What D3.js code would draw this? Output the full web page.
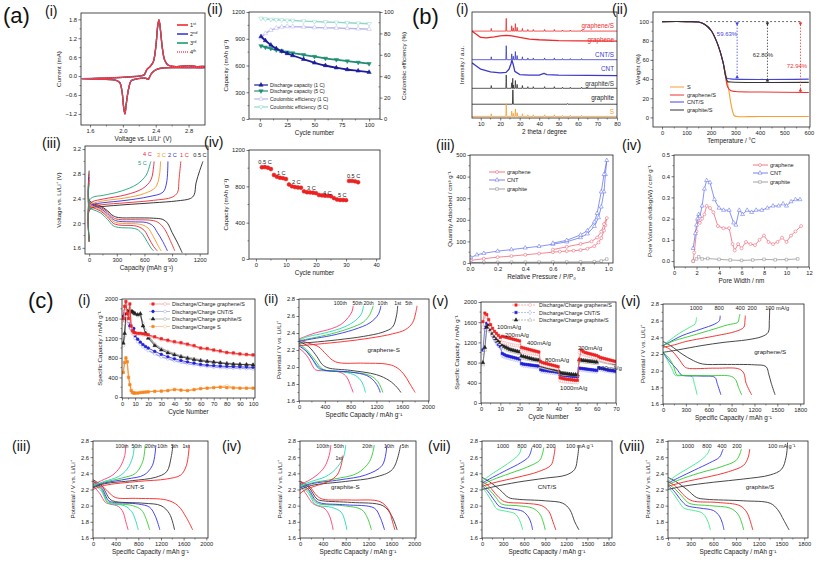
<!DOCTYPE html>
<html>
<head>
<meta charset="utf-8">
<script src="https://cdn.jsdelivr.net/npm/d3@7"></script>
<style>
  body { margin: 0; background: #fff; }
  svg { display: block; }
  text { font-family: "Liberation Sans", Arial, sans-serif; }
</style>
</head>
<body>
<svg id="fig" width="817" height="567"></svg>
<script>
// ---------- (a)(i) cyclic voltammetry ----------
const cvAnodic = [[1.5,-0.08],[1.7,-0.07],[1.9,-0.05],[2.0,-0.04],[2.1,-0.02],[2.2,0.0],[2.26,0.04],[2.29,0.2],[2.33,0.3],[2.37,0.45],[2.4,0.9],[2.425,1.6],[2.44,1.78],[2.46,1.4],[2.48,0.9],[2.51,0.5],[2.55,0.35],[2.65,0.3],[2.8,0.33],[2.9,0.3],[3.0,0.3]];
const cvCathodic = [[3.0,0.28],[2.8,0.27],[2.6,0.27],[2.5,0.26],[2.42,0.22],[2.36,0.12],[2.33,0.0],[2.31,-0.1],[2.28,-0.07],[2.22,-0.07],[2.15,-0.1],[2.1,-0.15],[2.07,-0.4],[2.04,-0.9],[2.025,-1.2],[2.01,-1.0],[1.99,-0.5],[1.96,-0.2],[1.9,-0.12],[1.7,-0.1],[1.5,-0.08]];
const cvCycles = ["1", "2", "3", "4"];
const cvSup = ["st", "nd", "rd", "th"];

// ---------- (a)(ii) cycling ----------
const aiiCycle = [1,5,10,15,20,25,30,40,50,60,70,80,90,100];
const dis1C = [925,880,830,790,760,735,712,670,630,600,575,555,540,525];
const dis5C = [820,805,790,775,762,750,740,720,700,680,665,650,635,620];
const ce1C = [76,80,83,85,86,86.5,86.3,86,85.5,85.2,85,84.7,84.3,84];
const ce5C = [94,93.5,93,92.8,92.5,92.2,92,91.5,91,90.7,90.3,90,89.5,89];
const aiiLegend = ["Discharge capacity (1 C)", "Discharge capacity (5 C)", "Coulombic efficiency (1 C)", "Coulombic efficiency (5 C)"];

// ---------- (a)(iii) rate charge/discharge ----------
const rateNames = ["0.5 C", "1 C", "2 C", "3 C", "4 C", "5 C"];
const rateDis = [
  [[0,2.85],[0,2.38],[40,2.32],[120,2.28],[200,2.2],[260,2.12],[320,2.09],[500,2.085],[700,2.08],[800,2.06],[850,2.0],[900,1.85],[960,1.68],[1010,1.52]],
  [[0,2.8],[0,2.35],[40,2.3],[120,2.26],[200,2.18],[260,2.09],[320,2.06],[500,2.055],[700,2.04],[760,2.0],[820,1.9],[880,1.72],[930,1.55]],
  [[0,2.75],[0,2.33],[40,2.29],[120,2.24],[200,2.15],[260,2.06],[320,2.03],[500,2.02],[620,2.01],[690,1.96],[740,1.85],[800,1.7],[850,1.55]],
  [[0,2.7],[0,2.3],[40,2.27],[120,2.22],[200,2.12],[260,2.03],[320,2.0],[500,1.99],[580,1.97],[640,1.92],[690,1.8],[740,1.66],[780,1.55]],
  [[0,2.7],[0,2.28],[40,2.25],[120,2.2],[200,2.1],[260,2.0],[320,1.97],[480,1.96],[540,1.94],[600,1.88],[650,1.75],[700,1.62],[740,1.55]],
  [[0,2.65],[0,2.25],[40,2.22],[120,2.17],[200,2.06],[260,1.96],[320,1.93],[460,1.92],[520,1.9],[580,1.82],[630,1.7],[670,1.6],[700,1.55]]
];
const rateCh = [
  [[0,1.75],[0,2.2],[40,2.25],[150,2.27],[400,2.3],[700,2.33],[950,2.36],[1100,2.4],[1140,2.46],[1160,2.65],[1200,2.85],[1235,3.0]],
  [[0,1.7],[0,2.22],[40,2.27],[150,2.3],[400,2.33],[700,2.37],[900,2.42],[960,2.5],[975,2.7],[995,3.0]],
  [[0,1.7],[0,2.25],[40,2.3],[150,2.33],[400,2.37],[650,2.43],[800,2.5],[840,2.65],[855,3.0]],
  [[0,1.7],[0,2.28],[40,2.32],[150,2.36],[400,2.41],[600,2.48],[720,2.58],[760,2.75],[775,3.0]],
  [[0,1.7],[0,2.3],[40,2.35],[150,2.39],[400,2.46],[580,2.56],[670,2.7],[700,2.92],[705,3.0]],
  [[0,1.7],[0,2.36],[40,2.42],[150,2.45],[350,2.52],[520,2.63],[620,2.78],[660,2.95],[670,3.0]]
];
const rateLabelPos = [[1130,3.09],[987,3.09],[857,3.09],[737,3.09],[585,3.12],[531,2.96]];

// ---------- (a)(iv) rate capability ----------
const aivCycle = [2,3,4,5,6,7,8,9,10,11,12,13,14,15,16,17,18,19,20,21,22,23,24,25,26,27,28,29,30,31,32,33,34];
const aivCap = [1010,1012,1005,990,925,905,895,890,880,820,800,792,788,785,745,735,733,730,725,705,700,697,695,690,670,655,650,650,648,860,860,855,845];
const aivLabels = [["0.5 C",0.8,1065],["1 C",7,936],["2 C",12,840],["3 C",17,778],["4 C",22.3,723],["5 C",27.3,694],["0.5 C",30.3,903]];

// ---------- (b)(i) XRD ----------
const sPeaks = [[15.4,2.5],[23.1,12],[25.9,5],[26.7,3],[27.8,7],[28.7,3.5],[31.4,2.5],[34.2,1.5],[37,1.5],[42.8,1.5],[47.8,1.5],[52,1],[56,1],[61.8,1]];
const cntBase = [[5.5,52],[7,50],[10,46],[15,43.5],[20,42.5],[23,43],[24.5,46],[25.5,51],[26,54.5],[26.6,51],[27.5,44],[30,41],[35,40.5],[40,40.5],[42.5,42],[44,41],[50,40.5],[80,40]];
const grapheneBase = [[5.5,82],[7,80],[10,76],[13,75.5],[17,76.5],[20,77.5],[23,78],[26,77.5],[30,76],[35,74.5],[40,73.8],[50,73],[60,72.8],[80,72.5]];
const xrdNames = ["graphene/S","graphene","CNT/S","CNT","graphite/S","graphite","S"];
const xrdLabelY = [86.8,73.6,59.4,46.2,32,18.9,5.7];

// ---------- (b)(ii) TGA ----------
const tgaNames = ["S","graphene/S","CNT/S","graphite/S"];
const tgaData = [
  [[0,100],[100,100],[150,99.5],[175,97],[200,91],[225,78],[250,57],[265,40],[275,25],[285,10],[295,2],[305,1],[400,1],[600,1]],
  [[0,100],[100,100],[150,99.5],[175,97],[200,91],[225,78],[250,57],[260,42],[268,32],[280,28],[300,27],[400,26.5],[600,26]],
  [[0,100],[100,100],[150,99.5],[175,97],[200,91],[225,78],[250,57],[258,46],[265,41],[280,40.2],[600,40]],
  [[0,100],[100,100],[150,99.5],[175,97],[200,91],[225,78],[250,57],[260,43],[268,37.5],[280,37],[600,36.6]]
];
const tgaMarks = [[307,40,"59.63%"],[431,36.6,"62.80%"],[566,26,"72.94%"]];

// ---------- (b)(iii) N2 isotherms ----------
const betNames = ["graphene","CNT","graphite"];
const betCNT = [[0.005,25],[0.05,38],[0.1,45],[0.2,55],[0.3,62],[0.4,70],[0.5,77],[0.6,87],[0.7,98],[0.8,118],[0.85,135],[0.9,170],[0.93,210],[0.95,260],[0.97,330],[0.98,410],[0.99,475],[0.97,410],[0.95,330],[0.92,230],[0.9,190],[0.85,150],[0.8,130],[0.7,105],[0.6,92]];
const betGraphene = [[0.005,12],[0.1,20],[0.2,27],[0.3,32],[0.4,38],[0.5,44],[0.6,50],[0.65,53],[0.7,55],[0.75,57],[0.8,60],[0.85,66],[0.9,78],[0.93,95],[0.95,115],[0.97,150],[0.98,175],[0.99,208],[0.97,180],[0.95,145],[0.92,118],[0.88,100],[0.8,88],[0.7,75],[0.6,62]];
const betGraphite = [[0.005,2],[0.1,3],[0.2,3],[0.3,3.5],[0.4,3.5],[0.5,4],[0.6,4],[0.7,4.5],[0.8,5],[0.9,6],[0.95,9],[0.99,18]];

// ---------- (b)(iv) pore size ----------
const poreCNT = [[1.7,0.06],[1.9,0.13],[2.0,0.17],[2.1,0.2],[2.2,0.22],[2.3,0.21],[2.5,0.26],[2.7,0.34],[2.9,0.38],[3.2,0.37],[3.6,0.29],[4.0,0.25],[4.4,0.24],[4.9,0.24],[5.3,0.18],[5.5,0.17],[5.8,0.24],[6.1,0.22],[6.5,0.24],[6.9,0.23],[7.3,0.24],[7.8,0.24],[8.3,0.25],[8.8,0.26],[9.3,0.26],[9.7,0.27],[10.0,0.26],[10.4,0.28],[10.8,0.29],[11.2,0.29]];
const poreGraphene = [[1.7,0.0],[1.8,0.04],[2.0,0.14],[2.1,0.19],[2.3,0.18],[2.5,0.2],[2.7,0.22],[2.9,0.26],[3.2,0.25],[3.5,0.23],[3.9,0.165],[4.4,0.155],[4.9,0.155],[5.2,0.08],[5.4,0.05],[5.7,0.08],[6.0,0.06],[6.4,0.09],[6.8,0.08],[7.2,0.075],[7.6,0.1],[8.0,0.12],[8.4,0.09],[8.8,0.08],[9.2,0.09],[9.6,0.11],[10.0,0.09],[10.4,0.12],[10.8,0.14],[11.3,0.165]];
const poreGraphite = [[1.7,0.0],[2.0,0.01],[2.2,0.02],[2.5,0.01],[3.0,0.012],[4,0.008],[5,0.005],[6,0.003],[7,0.005],[8,0.008],[9,0.006],[10,0.007],[11,0.01]];

// ---------- (c)(i) cycling of composites ----------
const ciCycle = [1,2,3,4,5,6,7,8,9,10,12,14,16,18,20,25,30,35,40,45,50,55,60,65,70,75,80,85,90,95,100];
const ciNames = ["Discharge/Charge graphene/S","Discharge/Charge CNT/S","Discharge/Charge graphite/S","Discharge/Charge S"];
const ciDis = [
  [1600,1850,1950,1700,1600,1900,1450,1350,1320,1310,1300,1300,1290,1280,1270,1230,1190,1160,1130,1110,1080,1050,1000,990,960,940,910,900,880,870,860],
  [1650,1750,1700,1650,1550,1450,1400,1380,1400,1250,1180,1120,1070,1030,1000,930,870,820,780,745,715,690,665,650,640,630,625,620,615,610,605],
  [1100,1300,1700,1750,1760,1760,1750,1740,1720,1700,1680,1700,1450,1300,1200,1050,960,900,860,820,790,760,740,725,710,695,680,670,665,660,655],
  [500,700,800,720,400,250,130,90,80,80,80,90,95,100,105,115,120,130,150,140,130,150,170,180,190,200,190,185,180,180,180]
];
const ciCh = [
  [1500,1750,1880,1650,1550,1800,1400,1300,1280,1290,1280,1280,1270,1260,1250,1210,1170,1140,1110,1090,1060,1030,990,970,950,920,900,880,865,855,845],
  [1600,1700,1680,1600,1500,1420,1380,1350,1330,1200,1130,1080,1030,990,950,880,820,780,740,710,680,660,640,625,610,600,595,590,585,580,575],
  [1050,1250,1650,1720,1740,1740,1730,1720,1710,1690,1660,1680,1500,1350,1250,1080,990,930,880,840,810,780,755,735,720,705,690,680,670,665,660],
  [520,720,780,700,420,260,150,100,90,85,85,95,100,105,110,120,125,135,160,145,135,155,175,185,195,210,230,195,185,185,185]
];

// ---------- (c)(ii)(iii)(iv) cycle-number voltage profiles ----------
const cycNames = ["100th","50th","20th","10th","1st","5th"];
const ciiDis = [
  [[0,2.22],[80,2.17],[150,2.1],[220,2.0],[260,1.965],[450,1.955],[650,1.935],[740,1.88],[800,1.78],[840,1.7]],
  [[0,2.27],[100,2.2],[200,2.1],[280,2.0],[340,1.965],[600,1.95],[850,1.91],[950,1.85],[1000,1.78],[1030,1.7]],
  [[0,2.28],[120,2.2],[250,2.08],[330,2.0],[400,1.965],[800,1.94],[1100,1.9],[1220,1.83],[1270,1.76],[1300,1.7]],
  [[0,2.25],[120,2.18],[220,2.08],[300,2.0],[380,1.965],[800,1.94],[1050,1.9],[1170,1.83],[1230,1.76],[1260,1.7]],
  [[0,2.3],[150,2.24],[280,2.12],[360,2.03],[450,1.99],[800,1.96],[1200,1.91],[1400,1.84],[1520,1.76],[1580,1.7]],
  [[0,2.32],[150,2.28],[300,2.24],[420,2.15],[520,2.08],[620,2.05],[1000,2.045],[1350,2.035],[1500,2.0],[1620,1.92],[1720,1.8],[1800,1.7]]
];
const ciiCh = [
  [[0,2.33],[100,2.36],[250,2.4],[500,2.45],[650,2.5],[760,2.58],[820,2.65],[840,2.72]],
  [[0,2.32],[150,2.36],[400,2.4],[700,2.47],[880,2.55],[970,2.63],[1000,2.72]],
  [[0,2.31],[200,2.34],[500,2.39],[800,2.46],[1000,2.53],[1100,2.62],[1150,2.72]],
  [[0,2.3],[200,2.33],[500,2.37],[850,2.44],[1100,2.52],[1230,2.62],[1270,2.72]],
  [[0,2.28],[200,2.29],[600,2.32],[1000,2.36],[1300,2.41],[1450,2.47],[1510,2.6],[1530,2.72]],
  [[0,2.25],[300,2.27],[700,2.3],[1100,2.34],[1450,2.39],[1650,2.44],[1760,2.52],[1810,2.64],[1830,2.72]]
];
const ciiLabelX = [640,906,1078,1297,1531,1703];

const ciiiNames = ["100th","50th","20th","10th","5th","1st"];
const ciiiDis = [
  [[0,2.25],[120,2.15],[220,2.04],[300,2.02],[450,1.99],[530,1.92],[580,1.8],[620,1.7]],
  [[0,2.27],[150,2.18],[250,2.04],[330,2.02],[550,2.0],[680,1.93],[750,1.82],[800,1.7]],
  [[0,2.28],[150,2.2],[260,2.05],[350,2.03],[700,2.0],[850,1.95],[930,1.85],[1000,1.7]],
  [[0,2.3],[150,2.22],[280,2.06],[380,2.04],[800,2.02],[1000,1.98],[1100,1.87],[1180,1.7]],
  [[0,2.32],[150,2.25],[300,2.08],[400,2.05],[900,2.03],[1200,2.0],[1350,1.9],[1440,1.7]],
  [[0,2.3],[150,2.25],[300,2.15],[400,2.1],[800,2.09],[1300,2.07],[1500,2.0],[1650,1.85],[1760,1.7]]
];
const ciiiCh = [
  [[0,2.26],[150,2.31],[350,2.38],[480,2.48],[560,2.62],[580,2.75]],
  [[0,2.25],[200,2.3],[450,2.36],[600,2.45],[700,2.6],[730,2.75]],
  [[0,2.24],[200,2.29],[500,2.34],[750,2.4],[880,2.55],[920,2.75]],
  [[0,2.23],[200,2.28],[600,2.33],[900,2.38],[1050,2.5],[1110,2.75]],
  [[0,2.22],[200,2.27],[700,2.31],[1100,2.35],[1300,2.42],[1380,2.6],[1410,2.75]],
  [[0,2.2],[200,2.25],[800,2.3],[1300,2.33],[1550,2.38],[1650,2.5],[1700,2.75]]
];
const ciiiLabelX = [510,770,1006,1225,1440,1640];

const civDis = [
  [[0,2.25],[120,2.13],[220,2.03],[300,2.0],[420,1.97],[500,1.9],[550,1.8],[580,1.7]],
  [[0,2.26],[150,2.15],[250,2.03],[330,2.0],[550,1.98],[720,1.92],[790,1.8],[820,1.7]],
  [[0,2.27],[150,2.18],[260,2.05],[350,2.02],[750,2.0],[1080,1.95],[1180,1.85],[1250,1.7]],
  [[0,2.28],[150,2.2],[280,2.06],[380,2.03],[800,2.01],[1300,1.97],[1400,1.86],[1480,1.7]],
  [[0,2.3],[150,2.23],[300,2.08],[400,2.06],[900,2.04],[1450,2.0],[1600,1.88],[1700,1.7]],
  [[0,2.3],[150,2.25],[300,2.12],[400,2.08],[900,2.07],[1400,2.05],[1550,1.95],[1620,1.8],[1660,1.7]]
];
const civCh = [
  [[0,2.26],[150,2.31],[300,2.38],[430,2.48],[510,2.62],[540,2.75]],
  [[0,2.25],[200,2.3],[450,2.36],[620,2.45],[760,2.6],[800,2.75]],
  [[0,2.23],[200,2.28],[600,2.33],[1000,2.4],[1220,2.55],[1300,2.75]],
  [[0,2.22],[200,2.27],[700,2.32],[1150,2.38],[1440,2.5],[1520,2.75]],
  [[0,2.2],[200,2.25],[800,2.3],[1300,2.35],[1620,2.45],[1760,2.75]],
  [[0,2.15],[100,2.2],[300,2.25],[500,2.3],[650,2.38],[720,2.5],[750,2.62]]
];
const civLabelX = [400,680,1180,1560,1840];

// ---------- (c)(v) rate performance ----------
const cvCycle = d3.range(1, 71);
const cvNames = ["Discharge/Charge graphene/S","Discharge/Charge CNT/S","Discharge/Charge graphite/S"];
const cvDisG = [1610,1780,1750,1650,1550,1480,1420,1380,1340,1300, 1320,1310,1300,1290,1280,1270,1260,1250,1240,1230, 1100,1090,1080,1070,1060,1050,1040,1030,1020,1010, 820,800,790,780,770,760,750,740,730,720, 500,490,480,475,470,465,460,455,450,450, 860,1050,1020,1000,990,980,970,960,950,940, 920,900,890,880,870,860,850,840,830,820];
const cvChG = [1500,1720,1700,1600,1500,1430,1370,1330,1290,1260, 1200,1190,1180,1170,1160,1150,1145,1140,1135,1130, 1020,1010,1000,990,985,980,975,970,965,960, 760,750,740,730,720,712,705,698,690,680, 440,430,425,420,418,415,412,410,408,405, 1000,980,960,950,940,930,920,910,900,895, 860,850,840,830,820,810,805,800,795,790];
const cvDisC = [1050,1500,1580,1560,1450,1350,1280,1220,1160,1120, 980,960,940,930,920,910,900,890,880,870, 780,770,765,760,755,750,745,740,735,730, 660,650,645,640,635,630,625,620,615,610, 560,555,550,545,540,535,530,528,525,520, 690,685,680,675,670,665,660,655,650,645, 700,690,680,670,660,650,645,640,635,630];
const cvChC = [1000,1450,1540,1520,1420,1320,1250,1190,1140,1100, 940,925,910,900,890,880,870,860,855,850, 760,750,745,740,735,730,725,720,715,710, 640,632,625,620,615,610,605,600,595,590, 545,540,535,530,525,520,518,515,512,510, 670,665,660,655,650,645,640,636,632,628, 680,670,660,652,645,640,635,630,625,620];
const cvDisT = [800,1100,1500,1550,1450,1380,1320,1270,1230,1200, 1150,1120,1100,1080,1060,1050,1040,1030,1020,1010, 930,920,910,900,890,880,870,860,855,850, 740,730,720,710,700,690,680,670,660,650, 600,590,585,580,575,570,565,560,560,555, 860,850,845,840,835,830,825,820,815,810, 880,860,850,840,830,820,810,800,790,780];
const cvChT = [760,1050,1450,1520,1420,1350,1290,1240,1200,1170, 1110,1090,1070,1050,1035,1025,1015,1005,995,985, 900,890,880,870,862,855,848,840,835,830, 720,710,700,690,680,672,664,656,648,640, 585,578,572,568,565,562,560,558,556,554, 830,825,820,815,810,805,800,795,790,785, 850,835,825,815,805,798,790,782,775,770];
const cvRateLabels = [["100mA/g",8.3,1505],["200mA/g",12.4,1346],["400mA/g",23.8,1188],["800mA/g",33.2,851],["1000mA/g",41,297],["200mA/g",50.3,1089],["100mA/g",60.6,693]];

// ---------- (c)(vi)(vii)(viii) current-density voltage profiles ----------
const curNames = ["1000","800","400","200","100"];
const cviDis = [
  [[0,2.22],[60,2.12],[120,2.02],[160,1.945],[250,1.94],[380,1.93],[410,1.85],[448,1.71]],
  [[0,2.22],[80,2.12],[180,2.02],[240,1.95],[280,1.94],[500,1.935],[680,1.92],[710,1.85],[760,1.71]],
  [[0,2.22],[80,2.15],[140,2.05],[180,1.95],[220,1.945],[600,1.94],[900,1.93],[960,1.88],[990,1.8],[1032,1.71]],
  [[0,2.3],[100,2.25],[200,2.15],[280,2.05],[320,2.03],[700,2.03],[1000,2.02],[1060,1.97],[1090,1.85],[1163,1.71]],
  [[0,2.35],[100,2.3],[250,2.2],[400,2.12],[520,2.08],[800,2.075],[1200,2.07],[1350,2.05],[1390,1.95],[1420,1.85],[1471,1.71]]
];
const cviCh = [
  [[0,2.3],[80,2.36],[200,2.44],[350,2.52],[420,2.56],[435,2.6],[440,2.64]],
  [[0,2.3],[100,2.35],[250,2.42],[500,2.5],[680,2.56],[740,2.6],[750,2.66]],
  [[0,2.3],[150,2.36],[300,2.4],[600,2.48],[850,2.55],[980,2.58],[1000,2.64],[1010,2.68]],
  [[0,2.28],[150,2.31],[300,2.35],[700,2.42],[950,2.47],[1060,2.52],[1075,2.6],[1080,2.66]],
  [[0,2.22],[200,2.25],[500,2.3],[800,2.34],[1100,2.37],[1300,2.41],[1380,2.46],[1395,2.6],[1400,2.75]]
];
const cviiDis = [
  [[0,2.23],[70,2.15],[150,2.04],[210,1.96],[350,1.93],[470,1.9],[530,1.83],[560,1.76],[580,1.7]],
  [[0,2.25],[80,2.18],[180,2.06],[250,1.99],[420,1.96],[580,1.93],[660,1.86],[700,1.78],[720,1.7]],
  [[0,2.27],[100,2.2],[200,2.1],[280,2.02],[500,2.0],[720,1.97],[820,1.9],[870,1.8],[900,1.7]],
  [[0,2.3],[100,2.24],[220,2.12],[320,2.05],[600,2.03],[850,2.0],[950,1.93],[1010,1.8],[1050,1.7]],
  [[0,2.35],[100,2.3],[250,2.2],[380,2.1],[500,2.08],[900,2.06],[1150,2.03],[1250,1.95],[1320,1.8],[1380,1.7]]
];
const cviiCh = [
  [[0,2.3],[120,2.38],[280,2.47],[430,2.56],[530,2.64],[560,2.72]],
  [[0,2.28],[150,2.35],[350,2.44],[550,2.53],[660,2.6],[700,2.68],[710,2.72]],
  [[0,2.26],[150,2.32],[400,2.4],[650,2.48],[820,2.56],[860,2.64],[880,2.72]],
  [[0,2.24],[200,2.29],[500,2.35],[800,2.42],[980,2.5],[1020,2.6],[1040,2.72]],
  [[0,2.2],[200,2.24],[500,2.29],[900,2.34],[1200,2.38],[1320,2.45],[1360,2.6],[1380,2.75]]
];
const cviiiDis = [
  [[0,2.23],[70,2.15],[150,2.04],[210,1.97],[340,1.94],[450,1.91],[510,1.84],[540,1.77],[560,1.7]],
  [[0,2.25],[80,2.18],[180,2.06],[250,2.0],[420,1.97],[600,1.94],[680,1.87],[720,1.78],[740,1.7]],
  [[0,2.27],[100,2.2],[200,2.1],[280,2.03],[550,2.0],[820,1.97],[920,1.9],[970,1.8],[1000,1.7]],
  [[0,2.3],[100,2.24],[220,2.12],[320,2.06],[650,2.04],[950,2.0],[1040,1.92],[1090,1.8],[1120,1.7]],
  [[0,2.35],[100,2.3],[250,2.2],[380,2.1],[500,2.08],[1000,2.06],[1350,2.03],[1450,1.95],[1530,1.82],[1600,1.7]]
];
const cviiiCh = [
  [[0,2.3],[120,2.38],[280,2.47],[430,2.56],[520,2.64],[550,2.7]],
  [[0,2.28],[150,2.35],[350,2.44],[550,2.53],[680,2.6],[720,2.68],[730,2.7]],
  [[0,2.26],[150,2.32],[400,2.4],[700,2.48],[900,2.56],[950,2.64],[970,2.7]],
  [[0,2.24],[200,2.29],[500,2.35],[800,2.42],[1000,2.5],[1060,2.6],[1080,2.7]],
  [[0,2.2],[200,2.24],[600,2.29],[1000,2.33],[1350,2.38],[1500,2.45],[1560,2.6],[1580,2.78]]
];

// ================= drawing =================
const svg = d3.select("#fig");
const INK = "#222";
let clipCount = 0;

function panel(o) {
  const x = d3.scaleLinear().domain(o.xd).range([o.l, o.r]);
  const y = d3.scaleLinear().domain(o.yd).range([o.b, o.t]);
  const g = svg.append("g");
  const id = "clip" + clipCount++;
  svg.append("clipPath").attr("id", id).append("rect")
    .attr("x", o.l).attr("y", o.t).attr("width", o.r - o.l).attr("height", o.b - o.t);

  const fs = 5.8;
  const xa = d3.axisBottom(x).tickValues(o.xt).tickSize(2.5).tickSizeOuter(0).tickPadding(1.5)
    .tickFormat(o.xf || (d => d));
  g.append("g").attr("transform", `translate(0,${o.b})`).call(xa);
  minor(g, x, o.xt, "x", o.b);
  if (o.yt) {
    const ya = d3.axisLeft(y).tickValues(o.yt).tickSize(2.5).tickSizeOuter(0).tickPadding(1.5)
      .tickFormat(o.yf || (d => d));
    g.append("g").attr("transform", `translate(${o.l},0)`).call(ya);
    minor(g, y, o.yt, "y", o.l);
  }
  g.selectAll(".domain").remove();
  g.selectAll(".tick line").attr("stroke", INK).attr("stroke-width", 0.6);
  g.selectAll(".tick text").attr("font-size", fs).attr("fill", INK)
    .attr("font-family", "'Liberation Sans', Arial, sans-serif");

  if (o.xl) g.append("text").attr("x", (o.l + o.r) / 2).attr("y", o.b + 16)
    .attr("text-anchor", "middle").attr("font-size", 6.4).attr("fill", INK).text(o.xl);
  if (o.yl) g.append("text")
    .attr("transform", `translate(${o.l - o.ylo},${(o.t + o.b) / 2}) rotate(-90)`)
    .attr("text-anchor", "middle").attr("font-size", 6.2).attr("fill", INK).text(o.yl);

  const d = g.append("g").attr("clip-path", `url(#${id})`);
  g.append("rect").attr("x", o.l).attr("y", o.t)
    .attr("width", o.r - o.l).attr("height", o.b - o.t)
    .attr("fill", "none").attr("stroke", INK).attr("stroke-width", 0.8);
  return { x, y, g, d, o };
}

function minor(g, s, ticks, dir, pos) {
  const mids = ticks.slice(1).map((t, i) => (t + ticks[i]) / 2);
  g.append("g").selectAll("line").data(mids).enter().append("line")
    .attr("x1", v => dir === "x" ? s(v) : pos).attr("x2", v => dir === "x" ? s(v) : pos - 1.5)
    .attr("y1", v => dir === "x" ? pos : s(v)).attr("y2", v => dir === "x" ? pos + 1.5 : s(v))
    .attr("stroke", INK).attr("stroke-width", 0.5);
}

function line(p, pts, color, w = 0.9, dash = null, curve = d3.curveLinear) {
  p.d.append("path")
    .attr("d", d3.line().x(d => p.x(d[0])).y(d => p.y(d[1])).curve(curve)(pts))
    .attr("fill", "none").attr("stroke", color).attr("stroke-width", w)
    .attr("stroke-dasharray", dash).attr("stroke-linejoin", "round");
}

function marks(p, pts, type, color, fill, size = 8, rot = 0, sw = 0.5) {
  p.d.append("g").selectAll("path").data(pts).enter().append("path")
    .attr("transform", d => `translate(${p.x(d[0])},${p.y(d[1])}) rotate(${rot})`)
    .attr("d", d3.symbol().type(type).size(size))
    .attr("fill", fill).attr("stroke", color).attr("stroke-width", sw);
}

function txt(x, y, s, o = {}) {
  return svg.append("text").attr("x", x).attr("y", y)
    .attr("font-size", o.fs || 6).attr("fill", o.c || INK)
    .attr("text-anchor", o.a || "start").attr("dominant-baseline", o.db || null).text(s);
}

function legendMark(x, y, type, color, fill, size = 8, rot = 0) {
  svg.append("path").attr("transform", `translate(${x},${y}) rotate(${rot})`)
    .attr("d", d3.symbol().type(type).size(size)).attr("fill", fill)
    .attr("stroke", color).attr("stroke-width", 0.5);
}

const smooth = d3.curveCatmullRom.alpha(0.5);
const fmt1 = d3.format(".1f");

// ---------------- (a)(i)
{
  const p = panel({ l: 81, r: 205, t: 13, b: 125, xd: [1.49, 3.0], yd: [-1.55, 2.0],
    xt: [1.6, 2.0, 2.4, 2.8], yt: [-1.2, -0.6, 0, 0.6, 1.2, 1.8], xf: fmt1, yf: fmt1,
    xl: "Voltage vs. Li/Li\u207A (V)", yl: "Current (mA)", ylo: 20 });
  const loop = cvAnodic.concat(cvCathodic);
  // 2nd, 3rd underneath, then 1st and the dotted 4th on top
  line(p, loop, "#3b3bd6", 1.4, null, smooth);
  line(p, loop, "#1a9e6e", 1.3, null, smooth);
  line(p, loop, "#ee2a2a", 1.2, null, smooth);
  line(p, loop, "#ff4466", 1.1, "1,1", smooth);
  const legCols = ["#ee2a2a", "#3b3bd6", "#1a9e6e", "#ff4466"];
  cvCycles.forEach((c, i) => {
    const yy = 25 + i * 9;
    svg.append("line").attr("x1", 177).attr("x2", 188).attr("y1", yy).attr("y2", yy)
      .attr("stroke", legCols[i]).attr("stroke-width", 1.6).attr("stroke-dasharray", i === 3 ? "1,1" : null);
    const t = txt(190, yy + 2, c, { fs: 5.5 });
    t.append("tspan").attr("font-size", 3.8).attr("dy", -2).text(cvSup[i]);
  });
}

// ---------------- (a)(ii)
{
  const p = panel({ l: 249, r: 380, t: 12, b: 119, xd: [-10, 110], yd: [0, 1200],
    xt: [0, 25, 50, 75, 100], yt: [0, 300, 600, 900, 1200],
    xl: "Cycle number", yl: "Capacity (mAh g\u207B\u00B9)", ylo: 21 });
  const y2 = d3.scaleLinear().domain([0, 100]).range([119, 12]);
  const ra = d3.axisRight(y2).tickValues([0, 20, 40, 60, 80, 100]).tickSize(2.5).tickSizeOuter(0).tickPadding(1.5);
  const gr = svg.append("g").attr("transform", "translate(380,0)").call(ra);
  gr.select(".domain").remove();
  gr.selectAll(".tick line").attr("stroke", INK).attr("stroke-width", 0.6);
  gr.selectAll(".tick text").attr("font-size", 5.8).attr("fill", INK);
  minor(svg, y2, [0, 20, 40, 60, 80, 100], "y", 380);
  svg.append("text").attr("transform", "translate(406,66) rotate(-90)").attr("text-anchor", "middle")
    .attr("font-size", 6.2).attr("fill", INK).text("Coulombic efficiency (%)");

  const ceScale = v => v * 12; // right axis (0-100 %) expressed in left-axis units
  const ce5 = aiiCycle.map((c, i) => [c, ceScale(ce5C[i])]);
  const ce1 = aiiCycle.map((c, i) => [c, ceScale(ce1C[i])]);
  const d5 = aiiCycle.map((c, i) => [c, dis5C[i]]);
  const d1 = aiiCycle.map((c, i) => [c, dis1C[i]]);
  line(p, ce5, "#8fd8c8", 1.4); marks(p, ce5, d3.symbolTriangle, "#8fd8c8", "#fff", 9, 180);
  line(p, ce1, "#b4b4f0", 1.4); marks(p, ce1, d3.symbolTriangle, "#b4b4f0", "#fff", 9);
  line(p, d5, "#1f8f73", 1.8, null, smooth); marks(p, d5, d3.symbolTriangle, "#1f8f73", "#1f8f73", 8, 180);
  line(p, d1, "#1c1c9c", 1.8, null, smooth); marks(p, d1, d3.symbolTriangle, "#1c1c9c", "#1c1c9c", 8);

  const lc = ["#1c1c9c", "#1f8f73", "#b4b4f0", "#8fd8c8"];
  aiiLegend.forEach((s, i) => {
    const yy = [85, 91, 99, 107][i];
    svg.append("line").attr("x1", 254).attr("x2", 268).attr("y1", yy).attr("y2", yy).attr("stroke", lc[i]).attr("stroke-width", 1.2);
    legendMark(261, yy, d3.symbolTriangle, lc[i], i < 2 ? lc[i] : "#fff", 8, i % 2 ? 180 : 0);
    txt(270, yy + 2, s, { fs: 5 });
  });
}

// ---------------- (a)(iii)
const rateCols = ["#222", "#ee2a2a", "#2f2fe0", "#f7941d", "#e8203c", "#1aa37a"];
{
  const p = panel({ l: 85, r: 208, t: 146, b: 254, xd: [-45, 1290], yd: [1.5, 3.25],
    xt: [0, 300, 600, 900, 1200], yt: [1.6, 2.0, 2.4, 2.8, 3.2], yf: fmt1,
    xl: "Capacity (mAh g\u207B\u00B9)", yl: "Voltage vs. Li/Li\u207A (V)", ylo: 24 });
  rateNames.forEach((n, i) => {
    line(p, rateDis[i], rateCols[i], 0.9, null, smooth);
    line(p, rateCh[i], rateCols[i], 0.9, null, smooth);
    txt(p.x(rateLabelPos[i][0]), p.y(rateLabelPos[i][1]), n, { fs: 5.6, c: rateCols[i], db: "middle" });
  });
}

// ---------------- (a)(iv)
{
  const p = panel({ l: 249, r: 380, t: 150, b: 259, xd: [-2.3, 41.3], yd: [0, 1200],
    xt: [0, 10, 20, 30, 40], yt: [0, 400, 800, 1200],
    xl: "Cycle number", yl: "Capacity (mAh g\u207B\u00B9)", ylo: 21 });
  const pts = aivCycle.map((c, i) => [c, aivCap[i]]);
  marks(p, pts, d3.symbolCircle, "#e81c1c", "#ee2020", 12);
  aivLabels.forEach(([s, c, v]) => txt(p.x(c), p.y(v), s, { fs: 5.6, db: "middle" }));
}

// ---------------- (b)(i)
{
  const p = panel({ l: 472, r: 617, t: 12, b: 118, xd: [5.5, 80], yd: [0, 100],
    xt: [10, 20, 30, 40, 50, 60, 70, 80], xl: "2 theta / degree", yl: "Intensity / a.u.", ylo: 8 });
  function trace(base, peaks, k) {
    const bs = d3.scaleLinear().domain(base.map(d => d[0])).range(base.map(d => d[1]));
    const pts = base.slice();
    peaks.forEach(([pos, h]) => {
      const b0 = bs(pos);
      pts.push([pos - 0.22, b0], [pos, b0 + h * k], [pos + 0.22, b0]);
    });
    return pts.sort((a, b) => a[0] - b[0]);
  }
  const flat = v => [[5.5, v], [80, v]];
  const traces = [
    [trace(flat(82), sPeaks, 1.0), "#ee2a2a"],
    [trace(grapheneBase, [], 1), "#ee2a2a"],
    [trace(flat(55), sPeaks, 1.1), "#3a3acc"],
    [trace(cntBase, [], 1), "#3a3acc"],
    [trace(flat(28), sPeaks.concat([[26.45, 9]]), 1.05), "#333"],
    [trace(flat(13), [[26.5, 13.5], [54.6, 0.6]], 1), "#222"],
    [trace(flat(1.5), sPeaks, 1.0), "#f7a030"]
  ];
  traces.forEach(([pts, c], i) => line(p, pts, c, i === 1 || i === 3 ? 1.3 : 0.8));
  xrdNames.forEach((n, i) => {
    txt(614, p.y(xrdLabelY[i]), n, { fs: 6.3, a: "end", db: "middle", c: traces[i][1] });
  });
}

// ---------------- (b)(ii)
{
  const p = panel({ l: 653, r: 810, t: 12, b: 127, xd: [-37, 605], yd: [-10, 110],
    xt: [0, 100, 200, 300, 400, 500, 600], yt: [0, 20, 40, 60, 80, 100],
    xl: "Temperature / \u00B0C", yl: "Weight (%)", ylo: 13 });
  const tc = ["#f7a030", "#ee3333", "#4444dd", "#333"];
  tgaData.forEach((d, i) => line(p, d, tc[i], 1.1, null, smooth));
  line(p, [[180, 100], [570, 100]], "#444", 0.8, "2,2");
  const ac = ["#4444dd", "#333", "#ee3333"];
  tgaMarks.forEach(([t, w], i) => {
    line(p, [[t, 100], [t, w]], ac[i], 0.8, "1.5,1.5");
    [[100, 180], [w, 0]].forEach(([v, r]) => {
      p.d.append("path").attr("transform", `translate(${p.x(t)},${p.y(v) + (r ? 2 : -2)}) rotate(${r})`)
        .attr("d", d3.symbol().type(d3.symbolTriangle).size(6)).attr("fill", ac[i]);
    });
  });
  txt(727, 36, tgaMarks[0][2], { fs: 6, c: "#4444dd", a: "middle" });
  txt(763, 57, tgaMarks[1][2], { fs: 6, c: "#333", a: "middle" });
  txt(797, 68, tgaMarks[2][2], { fs: 6, c: "#ee3333", a: "middle" });
  tgaNames.forEach((n, i) => {
    const yy = [87, 95, 102, 110][i];
    svg.append("line").attr("x1", 670).attr("x2", 684).attr("y1", yy).attr("y2", yy).attr("stroke", tc[i]).attr("stroke-width", 1);
    txt(687, yy + 2, n, { fs: 5.6 });
  });
}

// ---------------- (b)(iii)
{
  const p = panel({ l: 470, r: 613, t: 155, b: 263, xd: [0, 1.035], yd: [0, 500],
    xt: [0, 0.2, 0.4, 0.6, 0.8, 1.0], yt: [0, 100, 200, 300, 400, 500], xf: fmt1,
    xl: "Relative Pressure / P/P\u2080", yl: "Quantity Adsorbed / cm\u00B3 g\u207B\u00B9", ylo: 18 });
  const bc = ["#ee5566", "#5566ee", "#888"];
  const sets = [betGraphene, betCNT, betGraphite];
  const syms = [d3.symbolCircle, d3.symbolTriangle, d3.symbolSquare];
  [2, 0, 1].forEach(i => {
    line(p, sets[i], bc[i], 0.7);
    marks(p, sets[i], syms[i], bc[i], "#fff", 7, 0, 0.5);
  });
  betNames.forEach((n, i) => {
    const yy = [172, 180, 189][i];
    svg.append("line").attr("x1", 489).attr("x2", 505).attr("y1", yy).attr("y2", yy).attr("stroke", bc[i]).attr("stroke-width", 0.8);
    legendMark(497, yy, syms[i], bc[i], "#fff", 7);
    txt(507, yy + 2, n, { fs: 5.6 });
  });
}

// ---------------- (b)(iv)
{
  const p = panel({ l: 674, r: 809, t: 155, b: 267, xd: [0, 12], yd: [-0.028, 0.5],
    xt: [0, 2, 4, 6, 8, 10, 12], yt: [0, 0.1, 0.2, 0.3, 0.4, 0.5], yf: fmt1,
    xl: "Pore Width / nm", yl: "Pore Volume dv/dlog(W) / cm\u00B3 g\u207B\u00B9", ylo: 22 });
  const pc = ["#ee5566", "#5566ee", "#888"];
  const sets = [poreGraphene, poreCNT, poreGraphite];
  const syms = [d3.symbolCircle, d3.symbolTriangle, d3.symbolSquare];
  [2, 0, 1].forEach(i => {
    line(p, sets[i], pc[i], 0.7);
    marks(p, sets[i], syms[i], pc[i], "#fff", 7, 0, 0.5);
  });
  betNames.forEach((n, i) => {
    const yy = [165, 173, 182][i];
    svg.append("line").attr("x1", 753).attr("x2", 768).attr("y1", yy).attr("y2", yy).attr("stroke", pc[i]).attr("stroke-width", 0.8);
    legendMark(760, yy, syms[i], pc[i], "#fff", 7);
    txt(770, yy + 2, n, { fs: 5.6 });
  });
}

// ---------------- (c)(i)
{
  const p = panel({ l: 122, r: 255, t: 299, b: 398, xd: [0, 101.5], yd: [-20, 2000],
    xt: [0, 10, 20, 30, 40, 50, 60, 70, 80, 90, 100], yt: [0, 400, 800, 1200, 1600, 2000],
    xl: "Cycle Number", yl: "Specific Capacity / mAh g\u207B\u00B9", ylo: 20 });
  const dc = ["#ee2222", "#2020d8", "#222", "#f7841d"];
  const cc = ["#f5a0a0", "#a8a8f0", "#aaa", "#f9c590"];
  const ds = [d3.symbolSquare, d3.symbolCircle, d3.symbolTriangle, d3.symbolSquare];
  [3, 1, 2, 0].forEach(i => {
    const ch = ciCycle.map((c, k) => [c, ciCh[i][k]]);
    const dis = ciCycle.map((c, k) => [c, ciDis[i][k]]);
    line(p, ch, cc[i], 1.4); marks(p, ch, d3.symbolCircle, cc[i], "#fff", 7);
    line(p, dis, dc[i], 0.8); marks(p, dis, ds[i], dc[i], dc[i], 6);
  });
  ciNames.forEach((n, i) => {
    const yy = [304, 311.5, 319, 326.5][i];
    svg.append("line").attr("x1", 149).attr("x2", 170).attr("y1", yy).attr("y2", yy).attr("stroke", cc[i]).attr("stroke-width", 0.8);
    legendMark(153, yy, ds[i], dc[i], dc[i], 6);
    legendMark(165, yy, d3.symbolCircle, cc[i], "#fff", 7);
    txt(172, yy + 2, n, { fs: 5.4 });
  });
}

// voltage profile panels for cycle numbers
const cycCols = ["#ff3a6e", "#1ed8b4", "#33cc33", "#3030f0", "#333", "#ff2020"];
function profilePanel(box, dis, ch, names, cols, labelX, labelV, tag, tagPos, xmax, xt) {
  const p = panel({ l: box[0], r: box[1], t: box[2], b: box[3], xd: [0, xmax], yd: [1.6, 2.8],
    xt: xt, yt: [1.6, 1.8, 2.0, 2.2, 2.4, 2.6, 2.8], yf: fmt1,
    xl: "Specific Capacity / mAh g\u207B\u00B9", yl: "Potential / V vs. Li/Li\u207A", ylo: 18 });
  dis.forEach((d, i) => line(p, d, cols[i], 0.9, null, smooth));
  ch.forEach((d, i) => line(p, d, cols[i], 0.9, null, smooth));
  names.forEach((n, i) => {
    txt(p.x(labelX[i]), p.y(labelV), n, { fs: 5.2, a: "middle", db: "middle" });
  });
  txt(p.x(tagPos[0]), p.y(tagPos[1]), tag, { fs: 6.2, a: "middle", db: "middle" });
  return p;
}
const capTicks2000 = [0, 400, 800, 1200, 1600, 2000];
const capTicks1800 = [0, 300, 600, 900, 1200, 1500, 1800];

// (c)(ii)
profilePanel([299, 429, 299, 401], ciiDis, ciiCh, cycNames, cycCols, ciiLabelX, 2.75, "graphene-S", [1312, 2.2], 2015, capTicks2000);
// (c)(iii)
profilePanel([93, 208, 441, 538], ciiiDis, ciiiCh, ciiiNames, cycCols, ciiiLabelX, 2.726, "CNT-S", [741, 2.23], 2030, capTicks2000);
// (c)(iv)
{
  const p = profilePanel([300, 416, 441, 538], civDis, civCh, ["100th", "50th", "20th", "10th", "5th"],
    cycCols, civLabelX, 2.726, "graphite-S", [794, 2.23], 2030, capTicks2000);
  txt(p.x(680), p.y(2.58), "1st", { fs: 5.2, a: "middle", db: "middle" });
}

// ---------------- (c)(v)
{
  const p = panel({ l: 481, r: 616, t: 302, b: 403, xd: [0, 70], yd: [0, 2000],
    xt: [0, 10, 20, 30, 40, 50, 60, 70], yt: [0, 400, 800, 1200, 1600, 2000],
    xl: "Cycle Number", yl: "Specific Capacity / mAh g\u207B\u00B9", ylo: 22 });
  const sets = [[cvDisG, cvChG, "#ee2222", "#f4a0a0", d3.symbolSquare, d3.symbolCircle],
                [cvDisC, cvChC, "#2020d8", "#aab0f4", d3.symbolSquare, d3.symbolDiamond],
                [cvDisT, cvChT, "#222", "#aaa", d3.symbolTriangle, d3.symbolTriangle]];
  [1, 2, 0].forEach(i => {
    const [dv, cv, dcol, ccol, dsym, csym] = sets[i];
    const ch = cvCycle.map((c, k) => [c, cv[k]]);
    const dis = cvCycle.map((c, k) => [c, dv[k]]);
    line(p, ch, ccol, 0.6); marks(p, ch, csym, ccol, "#fff", 7);
    line(p, dis, dcol, 0.5); marks(p, dis, dsym, dcol, dcol, 6);
  });
  cvRateLabels.forEach(([s, c, v]) => txt(p.x(c), p.y(v), s, { fs: 6, db: "middle" }));
  cvNames.forEach((n, i) => {
    const yy = [305, 312.5, 320][i];
    const [, , dcol, ccol, dsym, csym] = sets[i];
    svg.append("line").attr("x1", 512).attr("x2", 536).attr("y1", yy).attr("y2", yy).attr("stroke", ccol).attr("stroke-width", 0.8).attr("stroke-dasharray", "2,1");
    legendMark(516, yy, dsym, dcol, dcol, 6);
    legendMark(530, yy, csym, ccol, "#fff", 7);
    txt(539, yy + 2, n, { fs: 5.4 });
  });
}

// current-density profile panels
const curCols = ["#3ee88a", "#3434e8", "#2ecc2e", "#ee2222", "#333"];
function curPanel(box, dis, ch, labels, tag, tagPos) {
  const p = panel({ l: box[0], r: box[1], t: box[2], b: box[3], xd: [0, 1850], yd: [1.6, 2.8],
    xt: capTicks1800, yt: [1.6, 1.8, 2.0, 2.2, 2.4, 2.6, 2.8], yf: fmt1,
    xl: "Specific Capacity / mAh g\u207B\u00B9", yl: "Potential / V vs. Li/Li\u207A", ylo: 18 });
  dis.forEach((d, i) => line(p, d, curCols[i], 0.9, null, smooth));
  ch.forEach((d, i) => line(p, d, curCols[i], 0.9, null, smooth));
  labels.forEach(([s, c, v, a]) => txt(p.x(c), p.y(v), s, { fs: 5.6, a: a || "middle", db: "middle" }));
  txt(p.x(tagPos[0]), p.y(tagPos[1]), tag, { fs: 6.2, a: "middle", db: "middle" });
}
curPanel([663, 804, 304, 404], cviDis, cviCh,
  [[curNames[0], 434, 2.74], [curNames[1], 736, 2.74], [curNames[2], 1012, 2.74], [curNames[3], 1170, 2.74], ["100 mA/g", 1340, 2.74, "start"]],
  "graphene/S", [1406, 2.22]);
curPanel([482, 612, 441, 538], cviiDis, cviiCh,
  [[curNames[0], 299, 2.73], [curNames[1], 569, 2.73], [curNames[2], 783, 2.73], [curNames[3], 982, 2.73], ["100 mA g\u207B\u00B9", 1195, 2.73, "start"]],
  "CNT/S", [925, 2.23]);
curPanel([668, 808, 441, 538], cviiiDis, cviiiCh,
  [[curNames[0], 264, 2.73], [curNames[1], 515, 2.73], [curNames[2], 713, 2.73], [curNames[3], 912, 2.73], ["100 mA g\u207B\u00B9", 1321, 2.73, "start"]],
  "graphite/S", [1215, 2.23]);

// ---------------- panel tags
const tags = [
  ["(a)", 3, 23, 22], ["(i)", 45, 16, 14], ["(ii)", 207, 14, 14], ["(iii)", 42, 148, 14], ["(iv)", 204, 147, 14],
  ["(b)", 412, 24, 22], ["(i)", 456, 14, 14], ["(ii)", 612, 14, 14], ["(iii)", 436, 150, 14], ["(iv)", 622, 150, 14],
  ["(c)", 28, 308, 22], ["(i)", 78, 305, 14], ["(ii)", 264, 303, 13], ["(v)", 432, 306, 14], ["(vi)", 621, 306, 14],
  ["(iii)", 12, 451, 14], ["(iv)", 222, 451, 14], ["(vii)", 428, 451, 14], ["(viii)", 619, 451, 14]
];
tags.forEach(([s, x, y, f]) => svg.append("text").attr("x", x).attr("y", y).attr("font-size", f)
  .attr("font-family", "'Open Sans', 'Liberation Sans', sans-serif").attr("fill", "#111").text(s));
</script>
</body>
</html>
